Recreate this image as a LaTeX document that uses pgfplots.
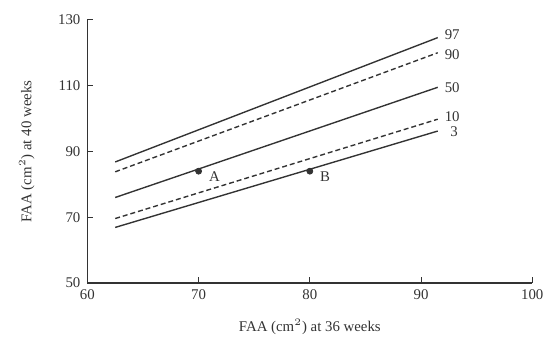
\documentclass[border=0pt]{standalone}
\usepackage{fontspec}
\setmainfont{Liberation Serif}
\usepackage{pgfplots}
\pgfplotsset{compat=1.18}
\definecolor{ink}{HTML}{333333}
\begin{document}
\begin{tikzpicture}
\begin{axis}[
  at={(0,0)}, anchor=south west,
  scale only axis, width=224bp, height=132.5bp,
  xmin=60, xmax=100, ymin=50, ymax=130,
  axis lines=left, axis line style={-, ink, line width=0.6pt},
  xtick={60,70,80,90,100}, ytick={50,70,90,110,130},
  tick style={ink, line width=0.5pt}, tick align=inside,
  major tick length=3bp,
  tick label style={font=\fontsize{7.5}{9}\selectfont, text=ink},
  /pgf/number format/assume math mode=true,
  xlabel={FAA (cm$^2$) at 36 weeks},
  ylabel={FAA (cm$^2$) at 40 weeks},
  label style={font=\fontsize{7.5}{9}\selectfont, text=ink},
  xlabel style={yshift=-3bp},
  ylabel style={yshift=5bp},
  clip=false,
]
\addplot[ink, line width=0.7pt] coordinates {(62.5,86.8) (91.5,124.6)};
\addplot[ink, line width=0.7pt, dash pattern=on 2.5bp off 1.5bp] coordinates {(62.5,83.8) (91.5,120.0)};
\addplot[ink, line width=0.7pt] coordinates {(62.5,76.0) (91.5,109.5)};
\addplot[ink, line width=0.7pt, dash pattern=on 2.5bp off 1.5bp] coordinates {(62.5,69.6) (91.5,99.8)};
\addplot[ink, line width=0.7pt] coordinates {(62.5,66.9) (91.5,96.2)};
\addplot[only marks, mark=*, mark size=1.5bp, ink] coordinates {(70,84) (80,84)};
\node[anchor=west, font=\fontsize{7.5}{9}\selectfont, text=ink, inner sep=0pt] at (axis cs:92.1,125.5) {97};
\node[anchor=west, font=\fontsize{7.5}{9}\selectfont, text=ink, inner sep=0pt] at (axis cs:92.1,119.4) {90};
\node[anchor=west, font=\fontsize{7.5}{9}\selectfont, text=ink, inner sep=0pt] at (axis cs:92.1,109.5) {50};
\node[anchor=west, font=\fontsize{7.5}{9}\selectfont, text=ink, inner sep=0pt] at (axis cs:92.1,100.6) {10};
\node[anchor=west, font=\fontsize{7.5}{9}\selectfont, text=ink, inner sep=0pt] at (axis cs:92.6,95.9) {3};
\node[anchor=west, font=\fontsize{7.5}{9}\selectfont, text=ink, inner sep=0pt] at (axis cs:70.9,82.4) {A};
\node[anchor=west, font=\fontsize{7.5}{9}\selectfont, text=ink, inner sep=0pt] at (axis cs:80.9,82.4) {B};
\end{axis}
\path[use as bounding box] (-44bp,-29.5bp) rectangle (231bp,142.5bp);
\end{tikzpicture}
\end{document}
